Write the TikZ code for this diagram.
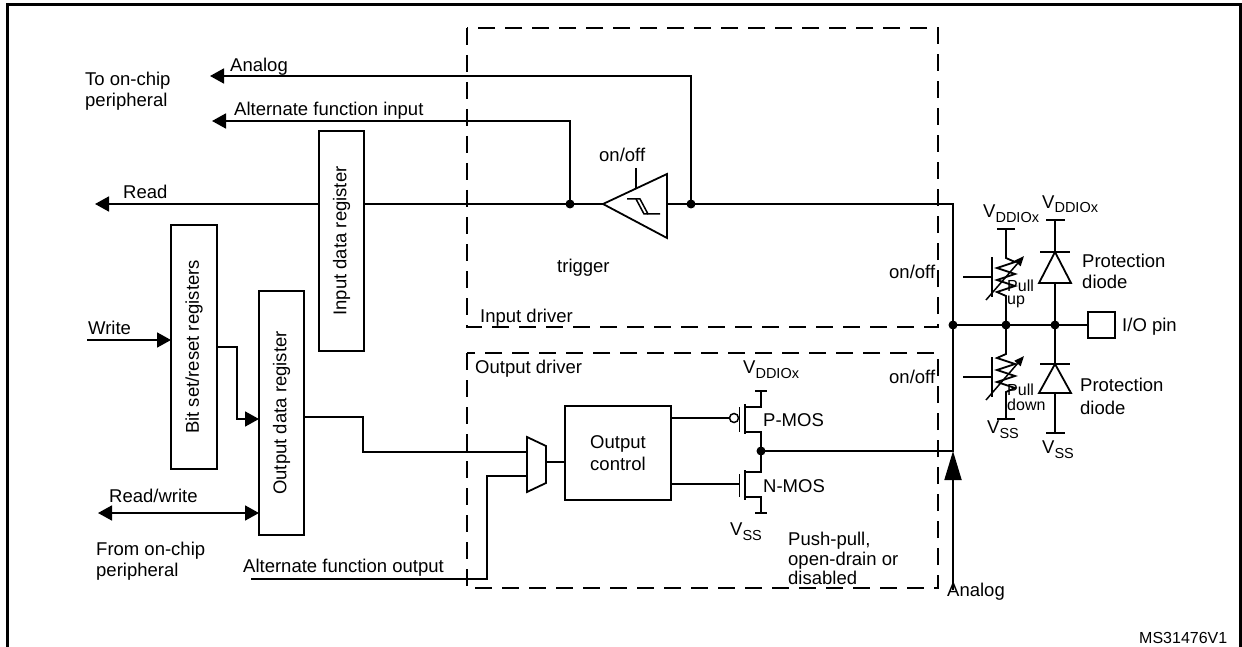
\documentclass[tikz,border=0pt]{standalone}
\usepackage{fontspec}
\setmainfont{Liberation Sans}
\usetikzlibrary{arrows.meta}
\newcommand{\vddio}{V\raisebox{-5pt}{\fontsize{14.5}{14.5}\selectfont DDIOx}}
\newcommand{\vsslbl}{V\raisebox{-5pt}{\fontsize{14.5}{14.5}\selectfont SS}}
\begin{document}
\begin{tikzpicture}[x=1pt,y=-1pt,
  wire/.style={line width=1.8pt},
  regbox/.style={draw, line width=1.8pt, inner sep=0pt, outer sep=0pt},
  dbox/.style={line width=1.8pt, dash pattern=on 17pt off 10pt},
  lbl/.style={font=\fontsize{18.5}{22}\selectfont, inner sep=0pt},
  slbl/.style={font=\fontsize{16}{16}\selectfont, inner sep=0pt},
  arr/.style={-{Triangle[length=14pt,width=15pt]}},
  bigarr/.style={-{Triangle[length=29pt,width=17pt]}},
  smarr/.style={-{Triangle[length=10pt,width=8pt]}},
  jdot/.style={circle, fill, inner sep=0pt, minimum size=9pt}]
\useasboundingbox (0,0) rectangle (1242,647);
\clip (0,0) rectangle (1242,647);
% frame
\draw[line width=3pt] (7,700) -- (7,5) -- (1240,5) -- (1240,700);
% driver boxes
\draw[dbox] (467,28) rectangle (938,327);
\draw[dbox] (467,353) rectangle (938,588);
% registers
\node[regbox, minimum width=45pt, minimum height=220pt] (idr) at (341.5,241) {};
\node[lbl, rotate=90] (idrt) at (idr) {Input data register};
\node[regbox, minimum width=46pt, minimum height=244pt] (bsr) at (194,347) {};
\node[lbl, rotate=90] (bsrt) at (bsr) {Bit set/reset registers};
\node[regbox, minimum width=45pt, minimum height=244pt] (odr) at (281.5,413) {};
\node[lbl, rotate=90] (odrt) at (odr) {Output data register};
% coordinates
\coordinate (anEnd) at (210,76);
\coordinate (afEnd) at (212,121);
\coordinate (rdEnd) at (95,204);
\coordinate (trTip) at (603,204);
\coordinate (trOut) at (667,204);
\coordinate (rE) at (953,204);
\coordinate (oE) at (953,451);
\coordinate (anB) at (953,590);
\coordinate (wrS) at (87,340);
\coordinate (rwS) at (98,513);
\coordinate (afoS) at (251,579);
\coordinate (muxA) at (527,452);
\coordinate (muxB) at (527,476);
\coordinate (muxO) at (546,462);
% junction dots
\node[jdot] (fJ) at (570,204) {};
\node[jdot] (aJ) at (691,204) {};
\node[jdot] (mJ) at (761,451) {};
\node[jdot] (pJ) at (953,325) {};
\node[jdot] (puJ) at (1006,325) {};
\node[jdot] (dJ) at (1055,325) {};
% input path
\draw[wire,arr] (aJ.center) |- (anEnd);
\draw[wire,arr] (fJ.center) |- (afEnd);
\draw[wire,arr] (idr.west |- rdEnd) -- (rdEnd);
\draw[wire] (idr.east |- rdEnd) -- (trTip);
\draw[wire] (trTip) -- (667,174) -- (667,238) -- cycle;
\draw[wire] (636,168) -- (636,188.5);
\draw[line width=1.5pt] (627,199) -- (640,199) -- (648,214) -- (660,214);
\draw[line width=1.5pt] (636,199) -- (644,214) -- (648,214);
\draw[wire] (trOut) -- (rE) -- (oE) -- (mJ.center);
% output path
\draw[wire,arr] (wrS) -- (wrS -| bsr.west);
\draw[wire,arr] (bsr.east) -| (237,419) -- (odr.west |- 237,419);
\draw[wire,{Triangle[length=14pt,width=15pt]}-{Triangle[length=14pt,width=15pt]}] (rwS) -- (rwS -| odr.west);
\draw[wire] (odr.east |- 0,417) -| (363,452) -- (muxA);
\draw[wire] (afoS) -| (487,476) -- (muxB);
\draw[wire] (527,437) -- (546,446) -- (546,483) -- (527,492) -- cycle;
\node[regbox, minimum width=106pt, minimum height=94pt] (oc) at (618,453) {};
\node[lbl, align=center] (oct) at (oc) {Output\\control};
\draw[wire] (muxO) -- (muxO -| oc.west);
% P-MOS
\draw[wire] (oc.east |- 0,418) -- (729.5,418);
\draw[line width=1.5pt] (734,418) circle (4.5);
\draw[wire] (739.5,407) -- (739.5,432);
\draw[wire] (745,404) -- (745,434);
\draw[wire] (745,407) -- (761,407) -- (761,391);
\draw[wire] (755,391) -- (767,391);
\draw[wire] (745,432) -- (761,432) -- (mJ.center);
% N-MOS
\draw[wire] (oc.east |- 0,484) -- (739.5,484);
\draw[wire] (739.5,474) -- (739.5,497);
\draw[wire] (745,470) -- (745,500);
\draw[wire] (745,472) -- (761,472) -- (mJ.center);
\draw[wire] (745,497) -- (761,497) -- (761,513);
\draw[wire] (755,513) -- (767,513);
% analog up arrow
\draw[wire,bigarr] (anB) -- (oE);
% pin
\node[regbox, minimum width=27pt, minimum height=26pt] (pin) at (1101.5,325) {};
\draw[wire] (pJ.center) -- (pin.west);
% pull-up
\draw[wire] (puJ.center) -- (1006,296) -- (997,292) -- (1015,286) -- (997,280) -- (1015,274) -- (997,268) -- (1015,262) -- (1006,258) -- (1006,229);
\draw[wire] (997,229) -- (1015,229);
\draw[wire] (963,277) -- (992,277);
\draw[wire] (992,257) -- (992,297);
\draw[line width=1.5pt,smarr] (986,300) -- (1024,256);
% pull-down
\draw[wire] (puJ.center) -- (1006,354) -- (997,358) -- (1015,364) -- (997,370) -- (1015,376) -- (997,382) -- (1015,388) -- (1006,392) -- (1006,419);
\draw[wire] (997,419) -- (1015,419);
\draw[wire] (963,377) -- (992,377);
\draw[wire] (992,357) -- (992,397);
\draw[line width=1.5pt,smarr] (986,400) -- (1024,356);
% diodes
\draw[wire] (1055,220) -- (1055,433);
\draw[wire] (1046,220) -- (1065,220);
\draw[wire, fill=white] (1039,283) -- (1071,283) -- (1055,252) -- cycle;
\draw[wire] (1040,252) -- (1070,252);
\draw[wire, fill=white] (1039,393) -- (1071,393) -- (1055,364) -- cycle;
\draw[wire] (1040,364) -- (1070,364);
\draw[wire] (1046,433) -- (1065,433);
% labels
\node[lbl,anchor=base west] (l1) at (85,86) {To on-chip};
\node[lbl,anchor=base west] (l2) at (85,107) {peripheral};
\node[lbl,anchor=base west] (l3) at (230,72) {Analog};
\node[lbl,anchor=base west] (l4) at (234,116) {Alternate function input};
\node[lbl,anchor=base west] (l5) at (123,199) {Read};
\node[lbl,anchor=base west] (l6) at (88,334) {Write};
\node[lbl,anchor=base west] (l7) at (109,502) {Read/write};
\node[lbl,anchor=base west] (l8) at (96,555) {From on-chip};
\node[lbl,anchor=base west] (l9) at (96,576) {peripheral};
\node[lbl,anchor=base west] (l10) at (243,572) {Alternate function output};
\node[lbl,anchor=base west] (l11) at (557,272) {trigger};
\node[lbl,anchor=base west] (l12) at (599,162) {on/off};
\node[lbl,anchor=base west] (l13) at (889,278) {on/off};
\node[lbl,anchor=base west] (l14) at (480,322) {Input driver};
\node[lbl,anchor=base west] (l15) at (475,373) {Output driver};
\node[lbl,anchor=base west] (l16) at (889,383) {on/off};
\node[lbl,anchor=base west] (l17) at (743,373) {\vddio};
\node[lbl,anchor=base west] (l18) at (763,426) {P-MOS};
\node[lbl,anchor=base west] (l19) at (763,492) {N-MOS};
\node[lbl,anchor=base west] (l20) at (730,535) {\vsslbl};
\node[lbl,anchor=base west] (l21) at (788,545) {Push-pull,};
\node[lbl,anchor=base west] (l22) at (788,565) {open-drain or};
\node[lbl,anchor=base west] (l23) at (788,584) {disabled};
\node[lbl,anchor=base west] (l24) at (947,596) {Analog};
\node[slbl,anchor=base west] (l25) at (1139,643) {MS31476V1};
\node[lbl,anchor=base west] (l26) at (1122,331) {I/O pin};
\node[lbl,anchor=base west] (l27) at (983,218) {\vddio};
\node[slbl,anchor=base west] (l28) at (1007,291) {Pull};
\node[slbl,anchor=base west] (l29) at (1007,304) {up};
\node[slbl,anchor=base west] (l30) at (1007,395) {Pull};
\node[slbl,anchor=base west] (l31) at (1007,410) {down};
\node[lbl,anchor=base west] (l32) at (987,433) {\vsslbl};
\node[lbl,anchor=base west] (l33) at (1042,208) {\vddio};
\node[lbl,anchor=base west] (l34) at (1042,453) {\vsslbl};
\node[lbl,anchor=base west] (l35) at (1082,267) {Protection};
\node[lbl,anchor=base west] (l36) at (1082,288) {diode};
\node[lbl,anchor=base west] (l37) at (1080,391) {Protection};
\node[lbl,anchor=base west] (l38) at (1080,414) {diode};
\end{tikzpicture}
\end{document}
